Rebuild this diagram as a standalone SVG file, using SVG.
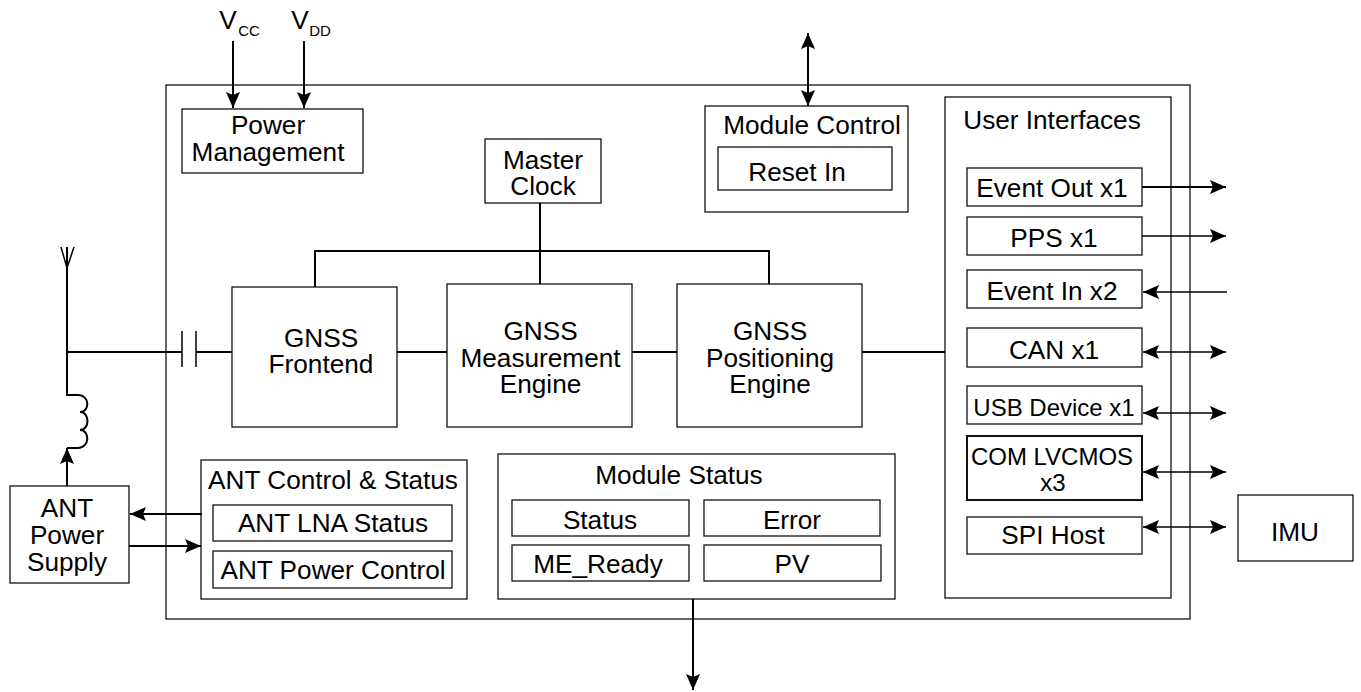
<svg xmlns="http://www.w3.org/2000/svg" width="1361" height="692" viewBox="0 0 1361 692">
<style>
text{font-family:"Liberation Sans",Arial,sans-serif;font-size:26.2px;fill:#000;text-anchor:middle}
.b{fill:#fff;stroke:#111;stroke-width:1.3}
.c{fill:none;stroke:#000;stroke-width:2}
.t{fill:none;stroke:#000;stroke-width:1.5}
.sm{font-size:15px}
.s{font-size:24px}
</style>
<defs>
<marker id="e" markerUnits="userSpaceOnUse" markerWidth="16" markerHeight="14" refX="16" refY="7" orient="auto-start-reverse"><path d="M0 0L16 7L0 14L3 7Z" fill="#000"/></marker>
</defs>
<rect width="1361" height="692" fill="#fff"/>
<g id="module"><rect class="b" x="166" y="85" width="1024" height="534"/></g>
<g id="vcc"><text x="228" y="28.5">V</text><text class="sm" x="249" y="36">CC</text></g>
<g id="vdd"><text x="300" y="28.5">V</text><text class="sm" x="320" y="36">DD</text></g>
<g id="power"><rect class="b" x="182" y="109" width="181" height="64"/><text x="268" y="134">Power</text><text x="268" y="161">Management</text></g>
<g id="clock"><rect class="b" x="485" y="139" width="116" height="64"/><text x="543" y="169">Master</text><text x="543" y="195">Clock</text></g>
<g id="modctl"><rect class="b" x="705" y="106" width="203" height="106"/><text x="812" y="134">Module Control</text><rect class="b" x="718" y="147" width="174" height="43"/><text x="797" y="181">Reset In</text></g>
<g id="ui"><rect class="b" x="945" y="97" width="226" height="501"/><text x="1052" y="129">User Interfaces</text></g>
<g id="front"><rect class="b" x="232" y="287" width="165" height="140"/><text x="321" y="347">GNSS</text><text x="321" y="373">Frontend</text></g>
<g id="meas"><rect class="b" x="447" y="284" width="185" height="143"/><text x="540.5" y="340">GNSS</text><text x="540.5" y="367">Measurement</text><text x="540.5" y="393">Engine</text></g>
<g id="pos"><rect class="b" x="677" y="284" width="185" height="143"/><text x="770" y="340">GNSS</text><text x="770" y="367">Positioning</text><text x="770" y="393">Engine</text></g>
<g id="evout"><rect class="b" x="967" y="168" width="175" height="38"/><text x="1052" y="197">Event Out x1</text></g>
<g id="pps"><rect class="b" x="967" y="217" width="175" height="38"/><text x="1054" y="247">PPS x1</text></g>
<g id="evin"><rect class="b" x="967" y="270" width="175" height="38"/><text x="1052" y="300">Event In x2</text></g>
<g id="can"><rect class="b" x="967" y="328" width="175" height="39"/><text x="1054" y="359">CAN x1</text></g>
<g id="usb"><rect class="b" x="967" y="386" width="175" height="38"/><text x="1054" y="416" class="s">USB Device x1</text></g>
<g id="com"><rect class="b" x="967" y="436" width="175" height="64" style="stroke-width:2"/><text x="1052" y="465" class="s">COM LVCMOS</text><text x="1053" y="491" class="s">x3</text></g>
<g id="spi"><rect class="b" x="967" y="517" width="175" height="37"/><text x="1053" y="544">SPI Host</text></g>
<g id="imu"><rect class="b" x="1238" y="495" width="115" height="66"/><text x="1295" y="541">IMU</text></g>
<g id="antps"><rect class="b" x="10" y="486" width="119" height="97"/><text x="67" y="517">ANT</text><text x="67" y="544">Power</text><text x="67" y="571">Supply</text></g>
<g id="antctl"><rect class="b" x="201" y="460" width="266" height="139"/><text x="333" y="489">ANT Control &amp; Status</text><rect class="b" x="213" y="505" width="239" height="36"/><text x="333" y="532">ANT LNA Status</text><rect class="b" x="213" y="551" width="239" height="37"/><text x="333" y="579">ANT Power Control</text></g>
<g id="modst"><rect class="b" x="498" y="454" width="397" height="145"/><text x="679" y="484">Module Status</text>
<rect class="b" x="512" y="500" width="177" height="36"/><text x="600" y="529">Status</text>
<rect class="b" x="704" y="500" width="176" height="36"/><text x="792" y="529">Error</text>
<rect class="b" x="512" y="545" width="177" height="36"/><text x="598" y="573">ME_Ready</text>
<rect class="b" x="704" y="545" width="177" height="36"/><text x="792" y="573">PV</text></g>
<g id="connectors">
<path class="c" d="M233 41V108" marker-end="url(#e)"/>
<path class="c" d="M304 41V108" marker-end="url(#e)"/>
<path class="c" d="M808 106V33" marker-start="url(#e)" marker-end="url(#e)"/>
<path class="c" d="M540 203V284M315 287V251H769V284"/>
<path class="c" d="M67 247V395H78C90 395 90 412 80 412C90 412 90 430 80 430C90 430 90 448 78 448H67"/>
<path class="c" d="M67 352H182M196 352H232M397 352H447M632 352H677M862 352H945"/>
<path class="t" d="M182 331V367M196 331V367"/>
<path class="t" d="M61 247L67 268L74 247"/>
<path class="c" d="M67 486V448" marker-end="url(#e)"/>
<path class="c" d="M202 514H130" marker-end="url(#e)"/>
<path class="c" d="M129 546H201" marker-end="url(#e)"/>
<path class="c" d="M693 599V690" marker-end="url(#e)"/>
<path class="c" d="M1142 187H1226" marker-end="url(#e)"/>
<path class="t" d="M1142 236H1226" marker-end="url(#e)"/>
<path class="t" d="M1227 292H1143" marker-end="url(#e)"/>
<path class="t" d="M1143 352H1226" marker-start="url(#e)" marker-end="url(#e)"/>
<path class="t" d="M1143 413H1226" marker-start="url(#e)" marker-end="url(#e)"/>
<path class="t" d="M1143 472H1226" marker-start="url(#e)" marker-end="url(#e)"/>
<path class="t" d="M1143 527H1226" marker-start="url(#e)" marker-end="url(#e)"/>
</g>
</svg>
